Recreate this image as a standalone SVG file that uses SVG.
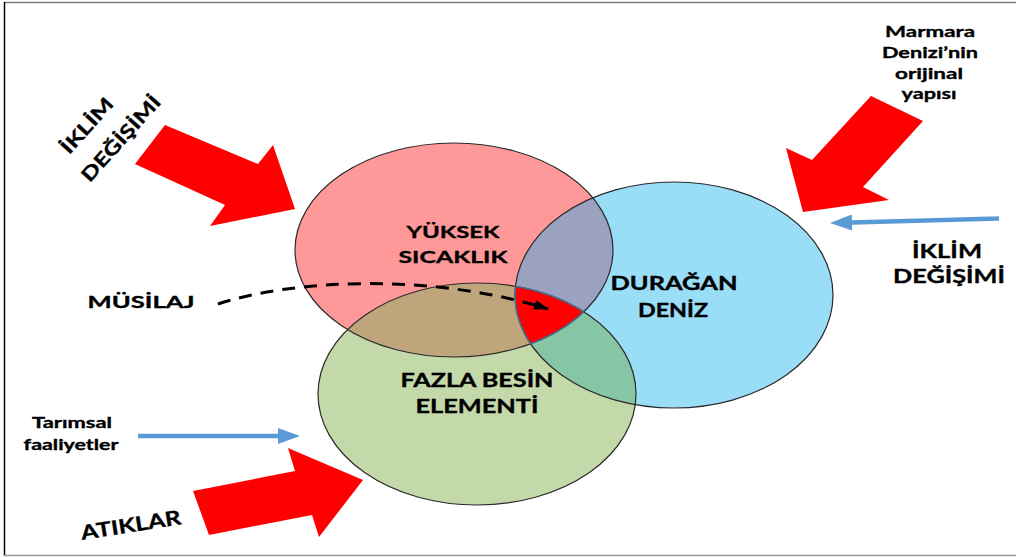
<svg xmlns="http://www.w3.org/2000/svg" width="1016" height="557" viewBox="0 0 1016 557">
<style>
.t{font-family:"Lato","Open Sans","Liberation Sans",sans-serif;font-weight:bold;fill:#000;stroke:#000;stroke-width:0.35;text-anchor:middle}
.ol{fill:none;stroke:#2a2a2a;stroke-width:1.2}
.blk{fill:#FF0000}
.bl{stroke:#5B9BD5;stroke-width:4.5;fill:none}
</style>
<defs>
<clipPath id="cR"><ellipse cx="454" cy="250" rx="159" ry="107"/></clipPath>
<clipPath id="cB"><ellipse cx="674" cy="295" rx="159" ry="113"/></clipPath>
<clipPath id="cG"><ellipse cx="477" cy="394" rx="159" ry="111"/></clipPath>
<marker id="bh" markerUnits="userSpaceOnUse" markerWidth="22" markerHeight="16" viewBox="0 0 22 16" refX="0" refY="8" orient="auto">
<path d="M0,0 L22,8 L0,16 z" fill="#5B9BD5"/>
</marker>
<marker id="kh" markerUnits="userSpaceOnUse" markerWidth="15" markerHeight="10" viewBox="0 0 15 10" refX="14" refY="5" orient="auto">
<path d="M0,0 L15,5 L0,10 z" fill="#000"/>
</marker>
</defs>
<rect x="0" y="0" width="1016" height="557" fill="#fff"/>
<g id="frame">
<line x1="4" y1="2.5" x2="1016" y2="2.5" stroke="#808080" stroke-width="1.5"/>
<line x1="4.5" y1="2" x2="4.5" y2="556" stroke="#000" stroke-width="1.5"/>
<line x1="4" y1="555.5" x2="1016" y2="555.5" stroke="#999" stroke-width="1.5"/>
</g>
<g id="circles">
<g id="node-yuksek-sicaklik"><ellipse cx="454" cy="250" rx="159" ry="107" fill="#FF9999"/></g>
<g id="node-duragan-deniz"><ellipse cx="674" cy="295" rx="159" ry="113" fill="#99DDF7"/></g>
<g id="node-fazla-besin"><ellipse cx="477" cy="394" rx="159" ry="111" fill="#C3D9A9"/></g>
<g id="overlaps">
<ellipse cx="674" cy="295" rx="159" ry="113" fill="#9AA2BF" clip-path="url(#cR)"/>
<ellipse cx="477" cy="394" rx="159" ry="111" fill="#BFA57B" clip-path="url(#cR)"/>
<ellipse cx="477" cy="394" rx="159" ry="111" fill="#86C6A4" clip-path="url(#cB)"/>
<g id="node-musilaj-core" clip-path="url(#cR)"><g clip-path="url(#cB)"><ellipse cx="477" cy="394" rx="159" ry="111" fill="#FF0000"/></g></g>
</g>
<ellipse class="ol" cx="454" cy="250" rx="159" ry="107"/>
<ellipse class="ol" cx="674" cy="295" rx="159" ry="113"/>
<ellipse class="ol" cx="477" cy="394" rx="159" ry="111"/>
<g clip-path="url(#cR)"><g clip-path="url(#cB)"><ellipse cx="477" cy="394" rx="159" ry="111" fill="none" stroke="#4F6A8C" stroke-width="1.6"/></g></g>
<g clip-path="url(#cR)"><g clip-path="url(#cG)"><ellipse cx="674" cy="295" rx="159" ry="113" fill="none" stroke="#4F6A8C" stroke-width="1.6"/></g></g>
<g clip-path="url(#cB)"><g clip-path="url(#cG)"><ellipse cx="454" cy="250" rx="159" ry="107" fill="none" stroke="#4F6A8C" stroke-width="1.6"/></g></g>
</g>
<g id="connectors">
<polygon class="blk" points="165,125 258,164 273,145 295,209 210,226 225,205 135,164"/>
<polygon class="blk" points="871,96 923,121 863,187 889,200 803,212 786,148 812,160"/>
<polygon class="blk" points="193,491 295,471 288,448 363,480 319,537 312,515 209,535"/>
<line class="bl" x1="999" y1="218.5" x2="852" y2="222.5" marker-end="url(#bh)"/>
<line class="bl" x1="138" y1="436" x2="278" y2="436" marker-end="url(#bh)"/>
<path d="M218,304 C290,280 430,272 548,309" fill="none" stroke="#000" stroke-width="3" stroke-dasharray="13,9" marker-end="url(#kh)"/>
</g>
<g id="labels">
<g id="lbl-iklim-left">
<text class="t" font-size="19" textLength="68" lengthAdjust="spacingAndGlyphs" transform="translate(92,130) rotate(-48)">İKLİM</text>
<text class="t" font-size="19" textLength="108" lengthAdjust="spacingAndGlyphs" transform="translate(126,143) rotate(-48)">DEĞİŞİMİ</text>
</g>
<g id="lbl-marmara">
<text class="t" font-size="16" x="930" y="37" textLength="90" lengthAdjust="spacingAndGlyphs">Marmara</text>
<text class="t" font-size="16" x="930" y="58" textLength="96" lengthAdjust="spacingAndGlyphs">Denizi’nin</text>
<text class="t" font-size="16" x="929" y="79" textLength="68" lengthAdjust="spacingAndGlyphs">orijinal</text>
<text class="t" font-size="16" x="929" y="99" textLength="55" lengthAdjust="spacingAndGlyphs">yapısı</text>
</g>
<g id="lbl-iklim-right">
<text class="t" font-size="19" x="947" y="258" textLength="70" lengthAdjust="spacingAndGlyphs">İKLİM</text>
<text class="t" font-size="19" x="949" y="283" textLength="112" lengthAdjust="spacingAndGlyphs">DEĞİŞİMİ</text>
</g>
<g id="lbl-musilaj">
<text class="t" font-size="17" x="141" y="308" textLength="107" lengthAdjust="spacingAndGlyphs">MÜSİLAJ</text>
</g>
<g id="lbl-yuksek">
<text class="t" font-size="17" x="453" y="238" textLength="93" lengthAdjust="spacingAndGlyphs">YÜKSEK</text>
<text class="t" font-size="17" x="453" y="263" textLength="109" lengthAdjust="spacingAndGlyphs">SICAKLIK</text>
</g>
<g id="lbl-duragan">
<text class="t" font-size="18.5" x="674" y="290" textLength="127" lengthAdjust="spacingAndGlyphs">DURAĞAN</text>
<text class="t" font-size="18.5" x="673" y="317" textLength="70" lengthAdjust="spacingAndGlyphs">DENİZ</text>
</g>
<g id="lbl-fazla">
<text class="t" font-size="19" x="477" y="387" textLength="153" lengthAdjust="spacingAndGlyphs">FAZLA BESİN</text>
<text class="t" font-size="19" x="477" y="413" textLength="123" lengthAdjust="spacingAndGlyphs">ELEMENTİ</text>
</g>
<g id="lbl-tarimsal">
<text class="t" font-size="15" x="72" y="428" textLength="80" lengthAdjust="spacingAndGlyphs">Tarımsal</text>
<text class="t" font-size="15" x="71" y="450" textLength="95" lengthAdjust="spacingAndGlyphs">faaliyetler</text>
</g>
<g id="lbl-atiklar">
<text class="t" font-size="20" textLength="101" lengthAdjust="spacingAndGlyphs" transform="translate(132,532) rotate(-9)">ATIKLAR</text>
</g>
</g>
</svg>
